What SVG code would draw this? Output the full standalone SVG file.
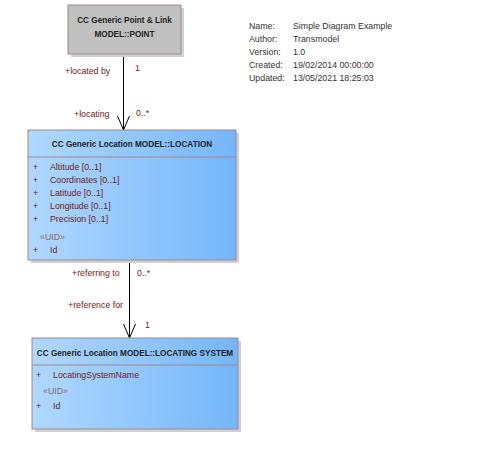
<svg xmlns="http://www.w3.org/2000/svg" width="504" height="459" viewBox="0 0 504 459">
<defs>
<linearGradient id="blue" x1="0" y1="0" x2="1" y2="0">
<stop offset="0" stop-color="#b0d8ff"/>
<stop offset="1" stop-color="#74b6fa"/>
</linearGradient>
</defs>
<style>
text{font-family:"Liberation Sans",Arial,sans-serif;font-size:8.8px;}
.hdr{font-weight:bold;font-size:8.2px;fill:#222;text-anchor:middle;}
.attr{fill:#6e2020;}
.ster{fill:#8a6a6a;}
.lbl{fill:#6e2020;}
.meta{fill:#333;}
.shadow{fill:#d0d0d0;}
.box{stroke:#a08888;stroke-width:1;}
.arrow{fill:none;stroke:#000;stroke-width:1;}
</style>
<rect width="504" height="459" fill="#fff"/>
<g id="connectors">
<line class="arrow" x1="123.5" y1="54" x2="123.5" y2="130"/>
<path class="arrow" d="M117.5,116 L123.5,130 L129.5,116"/>
<line class="arrow" x1="129.5" y1="260" x2="129.5" y2="338"/>
<path class="arrow" d="M123.5,324 L129.5,338 L135.5,324"/>
</g>
<g id="labels">
<text class="lbl" x="65" y="74">+located by</text>
<text class="lbl" x="135" y="71">1</text>
<text class="lbl" x="74" y="117">+locating</text>
<text class="lbl" x="136" y="116">0..*</text>
<text class="lbl" x="72" y="276">+referring to</text>
<text class="lbl" x="137" y="276">0..*</text>
<text class="lbl" x="68" y="308">+reference for</text>
<text class="lbl" x="145" y="328">1</text>
</g>
<g id="point">
<rect class="shadow" x="71" y="8" width="113" height="49"/>
<rect class="box" x="68" y="5" width="113" height="49" fill="#c0c0c0"/>
<text class="hdr" x="124.5" y="23">CC Generic Point &amp; Link</text>
<text class="hdr" x="124.5" y="37">MODEL::POINT</text>
</g>
<g id="location">
<rect class="shadow" x="31" y="133" width="208" height="130"/>
<rect class="box" x="28" y="130" width="208" height="130" fill="url(#blue)"/>
<line x1="28" y1="157" x2="236" y2="157" stroke="#a08888"/>
<text class="hdr" x="132" y="147">CC Generic Location MODEL::LOCATION</text>
<text class="attr" x="33" y="170">+</text><text class="attr" x="50" y="170">Altitude [0..1]</text>
<text class="attr" x="33" y="183">+</text><text class="attr" x="50" y="183">Coordinates [0..1]</text>
<text class="attr" x="33" y="196">+</text><text class="attr" x="50" y="196">Latitude [0..1]</text>
<text class="attr" x="33" y="209">+</text><text class="attr" x="50" y="209">Longitude [0..1]</text>
<text class="attr" x="33" y="222">+</text><text class="attr" x="50" y="222">Precision [0..1]</text>
<text class="ster" x="40" y="240">«UID»</text>
<text class="attr" x="33" y="253">+</text><text class="attr" x="50" y="253">Id</text>
</g>
<g id="locatingsystem">
<rect class="shadow" x="35" y="341" width="206" height="91"/>
<rect class="box" x="32" y="338" width="206" height="91" fill="url(#blue)"/>
<line x1="32" y1="365" x2="238" y2="365" stroke="#a08888"/>
<text class="hdr" x="135" y="356">CC Generic Location MODEL::LOCATING SYSTEM</text>
<text class="attr" x="36" y="378">+</text><text class="attr" x="53" y="378">LocatingSystemName</text>
<text class="ster" x="43" y="394">«UID»</text>
<text class="attr" x="36" y="409">+</text><text class="attr" x="53" y="409">Id</text>
</g>
<g id="metadata">
<text class="meta" x="249" y="29">Name:</text><text class="meta" x="293" y="29">Simple Diagram Example</text>
<text class="meta" x="249" y="42">Author:</text><text class="meta" x="293" y="42">Transmodel</text>
<text class="meta" x="249" y="55">Version:</text><text class="meta" x="293" y="55">1.0</text>
<text class="meta" x="249" y="68">Created:</text><text class="meta" x="293" y="68">19/02/2014 00:00:00</text>
<text class="meta" x="249" y="81">Updated:</text><text class="meta" x="293" y="81">13/05/2021 18:25:03</text>
</g>
</svg>
